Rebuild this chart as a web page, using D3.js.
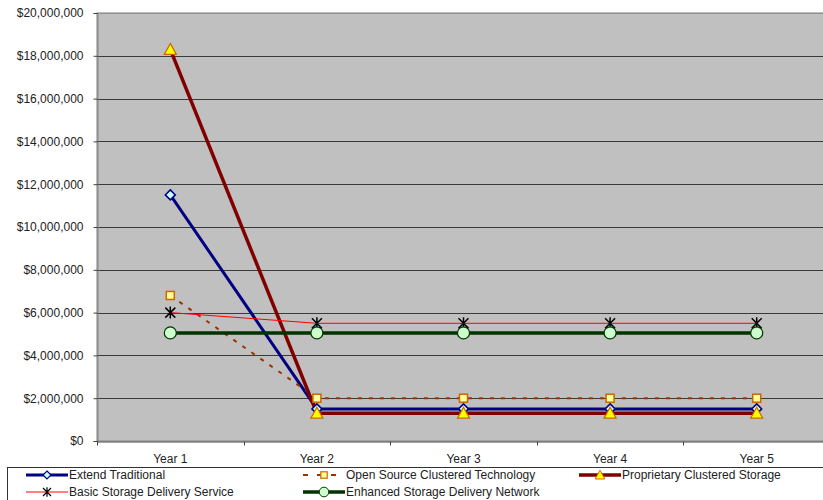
<!DOCTYPE html>
<html>
<head>
<meta charset="utf-8">
<script src="https://cdn.jsdelivr.net/npm/d3@7"></script>
<style>
  body { margin: 0; background: #fff; }
  text { font-family: "Liberation Sans", Arial, sans-serif; font-size: 12px; fill: #222; }
</style>
</head>
<body>
<script>
// categories and series (values in dollars)
var years = ["Year 1", "Year 2", "Year 3", "Year 4", "Year 5"];
var extendTraditional = [11500000, 1500000, 1500000, 1500000, 1500000];
var openSource = [6800000, 2000000, 2000000, 2000000, 2000000];
var proprietary = [18300000, 1300000, 1300000, 1300000, 1300000];
var basicStorage = [6000000, 5500000, 5500000, 5500000, 5500000];
var enhancedStorage = [5050000, 5050000, 5050000, 5050000, 5050000];
var yTicks = [0, 2000000, 4000000, 6000000, 8000000, 10000000, 12000000, 14000000, 16000000, 18000000, 20000000];

var series = [
  { name: "Extend Traditional", values: extendTraditional, color: "#000080", width: 3, dash: null, marker: "diamond", fill: "#ccffff", mstroke: "#000080" },
  { name: "Open Source Clustered Technology", values: openSource, color: "#993300", width: 2, dash: "4,7", marker: "square", fill: "#ffff99", mstroke: "#cc6600" },
  { name: "Proprietary Clustered Storage", values: proprietary, color: "#800000", width: 3.5, dash: null, marker: "triangle", fill: "#ffff00", mstroke: "#cc6600" },
  { name: "Basic Storage Delivery Service", values: basicStorage, color: "#ff0000", width: 1, dash: null, marker: "star", fill: "none", mstroke: "#000" },
  { name: "Enhanced Storage Delivery Network", values: enhancedStorage, color: "#003300", width: 3.5, dash: null, marker: "circle", fill: "#ccffcc", mstroke: "#003300" }
];

var W = 823, H = 500;
var margin = { left: 97, top: 13, right: -7, bottom: 59 };
var svg = d3.select("body").append("svg").attr("width", W).attr("height", H);

var x = d3.scaleBand().domain(years).range([margin.left, W - margin.right]);
var y = d3.scaleLinear().domain([0, 20000000]).range([H - margin.bottom, margin.top]);

var plotW = W - margin.right - margin.left;
var plotH = H - margin.bottom - margin.top;

// plot area
svg.append("rect").attr("x", margin.left).attr("y", margin.top)
  .attr("width", plotW).attr("height", plotH)
  .attr("fill", "#c0c0c0").attr("stroke", "#808080").attr("stroke-width", 1);

// gridlines
svg.append("g").selectAll("line").data(yTicks.slice(1)).enter().append("line")
  .attr("x1", margin.left).attr("x2", W - margin.right)
  .attr("y1", function (d) { return Math.round(y(d)) + 0.5; })
  .attr("y2", function (d) { return Math.round(y(d)) + 0.5; })
  .attr("stroke", function (d, i) { return i == yTicks.length - 2 ? "#909090" : "#3a3a3a"; })
  .attr("stroke-width", 1);

// y axis
var yAxis = d3.axisLeft(y).tickValues(yTicks).tickSize(4).tickPadding(10)
  .tickFormat(function (d) { return "$" + d3.format(",")(d); });
var gy = svg.append("g").attr("transform", "translate(" + (margin.left + 0.5) + ",0)").call(yAxis);
gy.select(".domain").attr("stroke", "#808080");
gy.selectAll(".tick line").attr("stroke", "#404040");
gy.selectAll("text").style("font-size", "12px").attr("fill", "#333");

// x axis
var xAxis = d3.axisBottom(x).tickSize(0).tickPadding(13);
var gx = svg.append("g").attr("transform", "translate(0," + (H - margin.bottom + 0.5) + ")").call(xAxis);
gx.select(".domain").attr("stroke", "#404040");
gx.selectAll("text").style("font-size", "12px").attr("fill", "#333");
gx.selectAll(".boundary").data(years.concat(["end"])).enter().append("line")
  .attr("class", "boundary")
  .attr("x1", function (d, i) { return Math.round(margin.left + i * x.bandwidth()) + 0.5; })
  .attr("x2", function (d, i) { return Math.round(margin.left + i * x.bandwidth()) + 0.5; })
  .attr("y1", 0).attr("y2", 4).attr("stroke", "#404040");

var cx = function (d, i) { return x(years[i]) + x.bandwidth() / 2; };

function drawMarker(g, type, fill, stroke) {
  if (type == "diamond") {
    g.append("path").attr("d", "M0,-5L5,0L0,5L-5,0Z").attr("fill", fill).attr("stroke", stroke).attr("stroke-width", 1.5);
  } else if (type == "square") {
    g.append("rect").attr("x", -4).attr("y", -4).attr("width", 8).attr("height", 8).attr("fill", fill).attr("stroke", stroke).attr("stroke-width", 1.5);
  } else if (type == "triangle") {
    g.append("path").attr("d", "M0,-6L6,5L-6,5Z").attr("fill", fill).attr("stroke", stroke).attr("stroke-width", 1.2);
  } else if (type == "star") {
    g.append("path").attr("d", "M-5,-5L5,5M-5,5L5,-5M0,-6L0,6").attr("stroke", stroke).attr("stroke-width", 1.5);
  } else if (type == "circle") {
    g.append("circle").attr("r", 6).attr("fill", fill).attr("stroke", stroke).attr("stroke-width", 1.2);
  }
}

var line = d3.line().x(cx).y(function (d) { return y(d); });

series.forEach(function (s) {
  svg.append("path").datum(s.values).attr("d", line)
    .attr("fill", "none").attr("stroke", s.color).attr("stroke-width", s.width)
    .attr("stroke-dasharray", s.dash);
});
series.forEach(function (s) {
  s.values.forEach(function (v, i) {
    var g = svg.append("g").attr("transform", "translate(" + cx(v, i) + "," + y(v) + ")");
    drawMarker(g, s.marker, s.fill, s.mstroke);
  });
});

// legend
svg.append("rect").attr("x", 7.5).attr("y", 467.5).attr("width", 830).attr("height", 50)
  .attr("fill", "#fff").attr("stroke", "#333");
var legendPos = [[26, 475], [303, 475], [579, 475], [26, 492], [303, 492]];
series.forEach(function (s, i) {
  var p = legendPos[i];
  var g = svg.append("g").attr("transform", "translate(" + p[0] + "," + p[1] + ")");
  g.append("line").attr("x1", 0).attr("x2", 42).attr("y1", 0).attr("y2", 0)
    .attr("stroke", s.color).attr("stroke-width", s.width).attr("stroke-dasharray", s.dash ? "5,9" : null);
  var m = g.append("g").attr("transform", "translate(21,0) scale(0.8)");
  drawMarker(m, s.marker, s.fill, s.mstroke);
  g.append("text").attr("x", 43).attr("y", 4).text(s.name).style("font-size", "12px").attr("fill", "#111");
});
</script>
</body>
</html>
